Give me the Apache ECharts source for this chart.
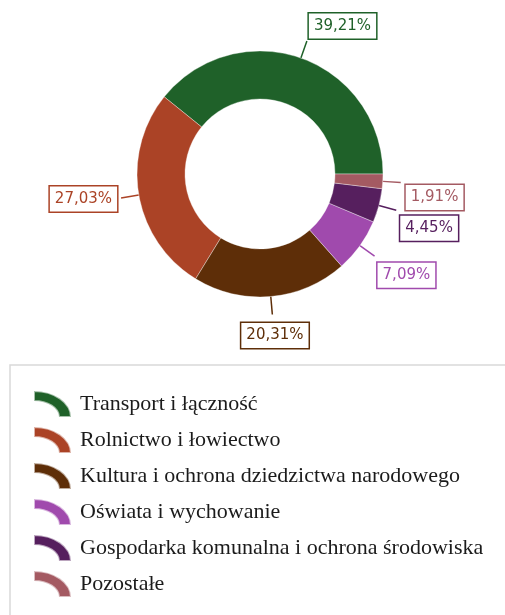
<!DOCTYPE html>
<html>
<head>
<meta charset="utf-8">
<script src="https://cdn.jsdelivr.net/npm/echarts@6/dist/echarts.min.js"></script>
<style>
  html, body { margin: 0; padding: 0; background: #fff; }
  #chart { width: 505px; height: 615px; }
</style>
</head>
<body>
<div id="chart"></div>
<script>
// Struktura wydatków według działów
const categories = [
  'Transport i łączność',
  'Rolnictwo i łowiectwo',
  'Kultura i ochrona dziedzictwa narodowego',
  'Oświata i wychowanie',
  'Gospodarka komunalna i ochrona środowiska',
  'Pozostałe'
];
const shares = [39.21, 27.03, 20.31, 7.09, 4.45, 1.91];
const colors = ['#1f6129', '#ab4326', '#5e2e08', '#a04aad', '#561f5e', '#a45a62'];

// Nudges for the value boxes, relative to where the pie puts them
const labelNudges = [[2, -15], [-4, 1], [-31, 21], [3, 19], [4, 18], [5, 15]];

// Legend icon: a quarter of an elliptical ring, 37 x 26
const arcIcon = 'path://M0,0 A37,26 0 0 1 37,26 L25,26 A25,16 0 0 0 0,10 Z';

const chart = echarts.init(document.getElementById('chart'), null, { renderer: 'canvas' });

const data = categories.map((name, i) => ({
  name: name,
  value: shares[i],
  itemStyle: { color: colors[i] },
  label: { color: colors[i], borderColor: colors[i] },
  labelLine: { lineStyle: { color: colors[i] } }
}));

chart.setOption({
  animation: false,
  backgroundColor: '#ffffff',
  graphic: [{
    type: 'rect',
    shape: { x: 10, y: 365, width: 500, height: 270 },
    style: { fill: '#fff', stroke: '#d9d9d9', lineWidth: 1.5 },
    z: -1
  }],
  legend: {
    orient: 'vertical',
    left: 33,
    top: 390,
    height: 220,
    padding: 0,
    itemWidth: 37,
    itemHeight: 26,
    itemGap: 8,
    icon: arcIcon,
    textStyle: {
      fontFamily: 'Liberation Serif',
      fontSize: 22,
      lineHeight: 24,
      color: '#1b1b1b',
      padding: [0, 0, 0, 4]
    },
    data: categories
  },
  series: [{
    type: 'pie',
    center: [260, 174],
    radius: [75, 123],
    startAngle: 0,
    clockwise: false,
    avoidLabelOverlap: false,
    itemStyle: { borderColor: 'rgba(255,255,255,0.6)', borderWidth: 0.6 },
    label: {
      show: true,
      position: 'outside',
      formatter: p => p.value.toFixed(2).replace('.', ',') + '%',
      fontFamily: 'DejaVu Sans',
      fontSize: 15,
      backgroundColor: '#fff',
      borderWidth: 1.5,
      padding: [5, 5, 5, 5],
      distanceToLabelLine: 0
    },
    labelLine: {
      show: true,
      length: 18,
      length2: 0,
      lineStyle: { width: 1.5 }
    },
    labelLayout: p => ({ dx: labelNudges[p.dataIndex][0], dy: labelNudges[p.dataIndex][1] }),
    data: data
  }]
});
</script>
</body>
</html>
